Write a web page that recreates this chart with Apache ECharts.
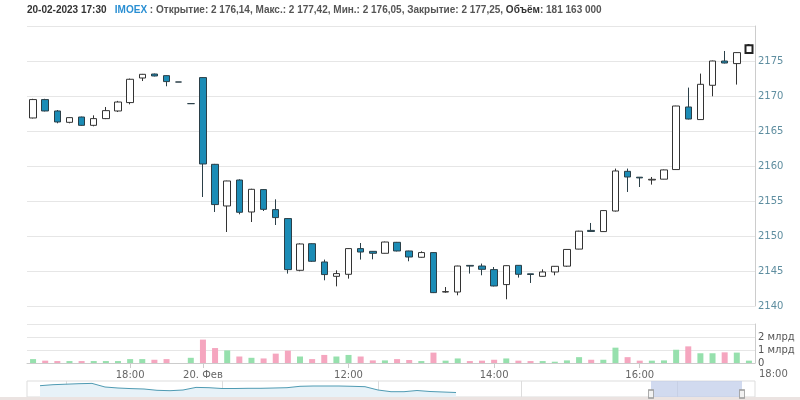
<!DOCTYPE html>
<html>
<head>
<meta charset="utf-8">
<script src="https://cdn.jsdelivr.net/npm/echarts@6/dist/echarts.min.js"></script>
<style>
html, body { margin: 0; padding: 0; background: #fff; }
#chart { width: 800px; height: 400px; }
</style>
</head>
<body>
<div id="chart"></div>
<script>
// IMOEX, 10-минутные свечи (17.02 вечер + 20.02)
var times = [
  "17.02 16:40", "17.02 16:50", "17.02 17:00", "17.02 17:10", "17.02 17:20", "17.02 17:30", "17.02 17:40",
  "17.02 17:50", "17.02 18:00", "17.02 18:10", "17.02 18:20", "17.02 18:30", "17.02 18:40", "17.02 18:50",
  "20.02 10:00", "20.02 10:10", "20.02 10:20", "20.02 10:30", "20.02 10:40", "20.02 10:50",
  "20.02 11:00", "20.02 11:10", "20.02 11:20", "20.02 11:30", "20.02 11:40", "20.02 11:50",
  "20.02 12:00", "20.02 12:10", "20.02 12:20", "20.02 12:30", "20.02 12:40", "20.02 12:50",
  "20.02 13:00", "20.02 13:10", "20.02 13:20", "20.02 13:30", "20.02 13:40", "20.02 13:50",
  "20.02 14:00", "20.02 14:10", "20.02 14:20", "20.02 14:30", "20.02 14:40", "20.02 14:50",
  "20.02 15:00", "20.02 15:10", "20.02 15:20", "20.02 15:30", "20.02 15:40", "20.02 15:50",
  "20.02 16:00", "20.02 16:10", "20.02 16:20", "20.02 16:30", "20.02 16:40", "20.02 16:50",
  "20.02 17:00", "20.02 17:10", "20.02 17:20", "20.02 17:30"
];
var open = [
  2166.86, 2169.49, 2167.86, 2166.24, 2167.00, 2165.81, 2166.77, 2167.86, 2169.06, 2172.57,
  2173.14, 2172.91, 2172.00, 2168.91, 2172.63, 2160.24, 2154.29, 2158.00, 2153.43, 2156.63,
  2153.77, 2152.49, 2145.10, 2148.90, 2146.29, 2144.24, 2144.53, 2148.20, 2147.81, 2147.53,
  2149.10, 2147.86, 2146.96, 2147.63, 2142.00, 2142.00, 2145.80, 2145.71, 2145.20, 2143.06,
  2145.81, 2144.60, 2144.24, 2144.86, 2145.69, 2148.13, 2150.80, 2150.63, 2153.57, 2159.24,
  2158.40, 2158.00, 2158.12, 2159.49, 2168.43, 2166.63, 2171.53, 2175.00, 2174.63, 2176.14
];
var close = [
  2169.49, 2167.86, 2166.29, 2166.91, 2165.81, 2166.77, 2167.91, 2169.14, 2172.39, 2173.10,
  2172.86, 2172.06, 2172.00, 2168.91, 2160.29, 2154.49, 2157.86, 2153.39, 2156.67, 2153.81,
  2152.63, 2145.20, 2148.86, 2146.39, 2144.49, 2144.63, 2148.20, 2147.71, 2147.53, 2149.14,
  2147.86, 2147.00, 2147.63, 2141.91, 2142.05, 2145.71, 2145.70, 2145.24, 2142.86, 2145.76,
  2144.53, 2144.50, 2144.86, 2145.67, 2148.08, 2150.69, 2150.65, 2153.63, 2159.29, 2158.43,
  2158.30, 2158.10, 2159.44, 2168.57, 2166.71, 2171.67, 2175.00, 2174.71, 2176.20, 2177.25
];
var low = [
  2166.80, 2167.80, 2166.10, 2166.10, 2165.75, 2165.67, 2166.70, 2167.71, 2168.81, 2172.14,
  2172.80, 2171.39, 2172.00, 2168.91, 2155.57, 2153.43, 2150.57, 2153.10, 2152.00, 2153.57,
  2151.57, 2144.63, 2144.96, 2146.30, 2143.67, 2142.81, 2143.91, 2146.63, 2146.67, 2147.50,
  2147.80, 2146.39, 2146.90, 2141.85, 2141.90, 2141.53, 2144.63, 2144.39, 2142.80, 2140.96,
  2144.06, 2143.29, 2144.20, 2144.39, 2145.60, 2148.10, 2150.60, 2150.60, 2153.50, 2156.29,
  2157.00, 2157.34, 2158.10, 2159.45, 2166.65, 2166.60, 2169.96, 2174.65, 2171.63, 2176.05
];
var high = [
  2169.60, 2169.60, 2168.00, 2166.95, 2167.05, 2167.24, 2168.43, 2169.30, 2172.49, 2173.15,
  2173.20, 2172.95, 2172.00, 2168.91, 2172.70, 2160.30, 2157.90, 2158.10, 2156.75, 2156.70,
  2155.24, 2152.55, 2148.95, 2148.95, 2146.63, 2145.10, 2148.25, 2149.00, 2147.85, 2149.20,
  2149.15, 2147.90, 2147.81, 2147.70, 2142.71, 2145.75, 2145.80, 2146.06, 2145.57, 2145.80,
  2145.85, 2144.60, 2145.24, 2145.70, 2148.10, 2150.75, 2151.86, 2153.70, 2159.63, 2159.63,
  2158.40, 2158.43, 2159.50, 2168.60, 2171.20, 2173.20, 2175.05, 2176.43, 2176.25, 2177.42
];
// объём, млн
var volume = [
  300, 180, 150, 150, 150, 150, 150, 150, 300, 300,
  250, 300, 0, 400, 1800, 1150, 970, 500, 400, 350,
  720, 950, 500, 300, 620, 500, 620, 500, 200, 200,
  300, 230, 150, 800, 180, 350, 150, 180, 250, 350,
  180, 150, 150, 100, 200, 450, 250, 250, 1180, 450,
  180, 180, 200, 1020, 1280, 750, 750, 820, 800, 181
];
var tickIdx = [8, 14, 26, 38, 50];
var tickText = ["18:00", "20. Фев", "12:00", "14:00", "16:00"];
// навигатор (история, уровень линии)
var navData = [
  null, 11.3, 12.3, 12.8, 13.3, 13.6, 10, 9, 8.4, 8, 6.7, 6.3, 7, 9.6, 9.3, 8.5, 8.5, 8.7, 8.7, 9,
  9.3, 10.7, 11, 11, 11, 10.7, 10.3, 7, 5.3, 5.3, 6.5, 5.5, 5, 4.5, null, null, null, null, null, null,
  null, null, null, null, null, null, null, null, null, null, null, null, null, null, null, null, null
];
var navLines = [3, 15, 27, 38, 50];
var navWindow = [48, 55];

var upColor = "#ffffff", downColor = "#1b8cb6";
var volUp = "#96e0ad", volDown = "#f5a6bf";
var labelFont = "DejaVu Sans";

var candles = open.map(function (o, i) {
  var item = { value: [o, close[i], low[i], high[i]] };
  // последняя свеча выделена (наведение)
  if (i === open.length - 1) item.itemStyle = { borderWidth: 2, borderColor: "#222" };
  return item;
});
var volBars = volume.map(function (v, i) {
  return { value: v, itemStyle: { color: close[i] >= open[i] ? volUp : volDown } };
});
var navCats = navData.map(function (v, i) { return String(i); });

var myChart = echarts.init(document.getElementById("chart"));
var option = {
  animation: false,
  backgroundColor: "#fff",
  title: {
    left: 22, top: 0,
    text: "{d|20-02-2023 17:30}   {t|IMOEX}{n| : Открытие: 2 176,14, Макс.: 2 177,42, Мин.: 2 176,05, Закрытие: 2 177,25, }{b|Объём}{n|: 181 163 000}",
    textStyle: {
      fontFamily: "Liberation Sans", fontSize: 10,
      rich: {
        d: { fontWeight: "bold", color: "#333", fontFamily: "Liberation Sans", fontSize: 10 },
        t: { fontWeight: "bold", color: "#2a8fd3", fontFamily: "Liberation Sans", fontSize: 10 },
        n: { color: "#555", fontFamily: "Liberation Sans", fontSize: 10 },
        b: { fontWeight: "bold", color: "#333", fontFamily: "Liberation Sans", fontSize: 10 }
      }
    }
  },
  grid: [
    { left: 27, right: 45, top: 26, height: 280, containLabel: false, outerBoundsMode: "none" },
    { left: 27, right: 45, top: 324, height: 39, containLabel: false, outerBoundsMode: "none" },
    { left: 27, right: 45, top: 381, height: 16, containLabel: false, outerBoundsMode: "none",
      show: true, borderColor: "#dddddd", borderWidth: 1, backgroundColor: "transparent" }
  ],
  xAxis: [
    { type: "category", gridIndex: 0, data: times, boundaryGap: true,
      axisLine: { show: false }, axisTick: { show: false }, axisLabel: { show: false }, splitLine: { show: false } },
    { type: "category", gridIndex: 1, data: times, boundaryGap: true,
      axisLine: { show: true, lineStyle: { color: "#cccccc" } },
      axisTick: { show: true, alignWithLabel: true, length: 5, lineStyle: { color: "#cccccc" },
        interval: function (i) { return tickIdx.indexOf(i) >= 0; } },
      axisLabel: { show: true, margin: 7, color: "#666", fontFamily: labelFont, fontSize: 10,
        interval: function (i) { return tickIdx.indexOf(i) >= 0; },
        formatter: function (v, i) { var k = tickIdx.indexOf(i); return k >= 0 ? tickText[k] : ""; } },
      splitLine: { show: false } },
    { type: "category", gridIndex: 2, data: navCats, boundaryGap: false,
      axisLine: { show: false }, axisTick: { show: false }, axisLabel: { show: false },
      splitLine: { show: true, lineStyle: { color: "#dddddd" },
        interval: function (i) { return navLines.indexOf(i) >= 0; } } }
  ],
  yAxis: [
    { type: "value", gridIndex: 0, position: "right", min: 2140, max: 2180, interval: 5,
      axisLine: { show: true, lineStyle: { color: "#cccccc" } }, axisTick: { show: false },
      axisLabel: { margin: 3, color: "#5f8ea0", fontFamily: labelFont, fontSize: 10, showMaxLabel: false,
        formatter: function (v) { return String(v); } },
      splitLine: { lineStyle: { color: "#e6e6e6" } } },
    { type: "value", gridIndex: 1, position: "right", min: 0, max: 3000, interval: 1000,
      axisLine: { show: true, lineStyle: { color: "#cccccc" } }, axisTick: { show: false },
      axisLabel: { margin: 3, color: "#555", fontFamily: labelFont, fontSize: 10, showMaxLabel: false,
        formatter: function (v) { return v === 0 ? "0" : (v / 1000) + " млрд"; } },
      splitLine: { lineStyle: { color: "#e6e6e6" } } },
    { type: "value", gridIndex: 2, min: 0, max: 16,
      axisLine: { show: false }, axisTick: { show: false }, axisLabel: { show: false }, splitLine: { show: false } }
  ],
  series: [
    { type: "candlestick", xAxisIndex: 0, yAxisIndex: 0, data: candles, barWidth: 7,
      itemStyle: { color: upColor, color0: downColor, borderColor: "#333333", borderColor0: "#2b3f48", borderWidth: 1 } },
    { type: "bar", xAxisIndex: 1, yAxisIndex: 1, data: volBars, barWidth: 6 },
    { type: "line", xAxisIndex: 2, yAxisIndex: 2, data: navData, showSymbol: false, connectNulls: false,
      lineStyle: { color: "#4f9bb3", width: 1 }, areaStyle: { color: "#e7f2f8", opacity: 1 },
      markArea: { silent: true, itemStyle: { color: "rgba(190,203,232,0.7)" },
        data: [[{ xAxis: navWindow[0] }, { xAxis: navWindow[1] }]] },
      markPoint: { silent: true, symbol: "rect", symbolSize: [5, 8],
        itemStyle: { color: "#f2f2f2", borderColor: "#999", borderWidth: 1 }, label: { show: false },
        data: [{ coord: [navWindow[0], 3] }, { coord: [navWindow[1], 3] }] } }
  ],
  graphic: [
    { type: "text", left: 759, top: 369,
      style: { text: "18:00", fill: "#666", font: "10px DejaVu Sans" } },
    { type: "rect", shape: { x: 0, y: 397, width: 800, height: 3 }, style: { fill: "#ebe3e1" } }
  ]
};
myChart.setOption(option);
</script>
</body>
</html>
